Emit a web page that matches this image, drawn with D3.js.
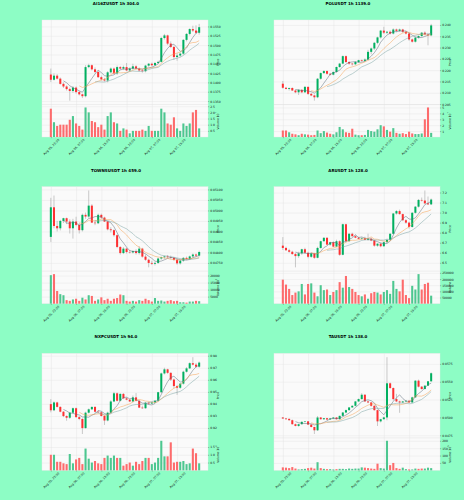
<!DOCTYPE html>
<html>
<head>
<meta charset="utf-8">
<script src="https://cdn.jsdelivr.net/npm/d3@7"></script>
<style>
  body { margin: 0; background: #8dfdc5; }
  svg { display: block; font-family: "DejaVu Sans", sans-serif; }
</style>
</head>
<body>
<svg id="chart" width="464" height="500"></svg>
<script>
// 48 hourly candles, same time axis for all six charts
const tickIdx = [0, 8, 16, 24, 32, 40];
const tickLabels = ["Aug 05, 23:00", "Aug 06, 07:00", "Aug 06, 15:00", "Aug 06, 23:00", "Aug 07, 07:00", "Aug 07, 15:00"];
const mavWindows = [5, 10, 15];

// AI16ZUSDT
const ai16zOpen  = [.1421,.1407,.1418,.1410,.1396,.1389,.1382,.1377,.1386,.1374,.1368,.1363,.1441,.1446,.1435,.1428,.1414,.1408,.1405,.1427,.1437,.1424,.1441,.1437,.1441,.1432,.1437,.1443,.1437,.1432,.1430,.1445,.1450,.1446,.1452,.1455,.1519,.1526,.1504,.1495,.1468,.1472,.1477,.1514,.1530,.1543,.1539,.1533];
const ai16zHigh  = [.1437,.1424,.1422,.1413,.1400,.1392,.1386,.1390,.1389,.1377,.1370,.1446,.1450,.1448,.1440,.1432,.1418,.1412,.1430,.1440,.1440,.1445,.1444,.1445,.1452,.1440,.1450,.1446,.1440,.1436,.1447,.1452,.1453,.1455,.1458,.1522,.1530,.1528,.1510,.1498,.1478,.1480,.1516,.1532,.1545,.1552,.1553,.1557];
const ai16zLow   = [.1401,.1405,.1408,.1394,.1385,.1378,.1351,.1372,.1370,.1365,.1358,.1360,.1438,.1432,.1425,.1412,.1405,.1402,.1400,.1424,.1422,.1420,.1434,.1433,.1430,.1428,.1434,.1435,.1429,.1426,.1427,.1442,.1443,.1444,.1450,.1453,.1515,.1500,.1492,.1460,.1458,.1468,.1474,.1510,.1526,.1535,.1530,.1528];
const ai16zClose = [.1407,.1418,.1410,.1396,.1389,.1382,.1377,.1386,.1374,.1368,.1363,.1441,.1446,.1435,.1428,.1414,.1408,.1405,.1427,.1437,.1424,.1441,.1437,.1441,.1432,.1437,.1443,.1437,.1432,.1430,.1445,.1450,.1446,.1452,.1455,.1519,.1526,.1504,.1495,.1468,.1472,.1477,.1514,.1530,.1543,.1539,.1533,.1548];
const ai16zVol   = [2.3,1.2,0.9,1.0,1.0,1.0,1.4,1.7,1.1,0.9,0.6,2.4,2.0,1.3,1.2,0.8,1.0,0.6,1.7,2.0,1.2,1.1,0.5,0.7,0.6,0.3,0.5,0.5,0.5,0.6,0.5,0.9,0.5,0.5,0.5,2.3,2.0,1.1,1.0,1.6,0.7,0.5,1.1,0.9,1.1,2.0,2.2,0.7];
const ai16zPriceTicks = [0.1350,0.1375,0.1400,0.1425,0.1450,0.1475,0.1500,0.1525,0.1550];
const ai16zVolTicks = [0.5,1.0,1.5,2.0,2.5];

// POLUSDT
const polOpen  = [.2140,.2122,.2117,.2121,.2110,.2102,.2113,.2102,.2126,.2095,.2088,.2080,.2162,.2187,.2196,.2184,.2180,.2192,.2214,.2229,.2262,.2236,.2229,.2226,.2236,.2244,.2241,.2247,.2281,.2296,.2321,.2345,.2375,.2366,.2370,.2362,.2380,.2374,.2380,.2370,.2362,.2336,.2326,.2344,.2351,.2366,.2358,.2354];
const polHigh  = [.2152,.2126,.2123,.2124,.2114,.2115,.2116,.2130,.2128,.2100,.2092,.2165,.2190,.2200,.2199,.2188,.2194,.2216,.2232,.2265,.2265,.2240,.2232,.2240,.2246,.2247,.2252,.2290,.2300,.2325,.2348,.2378,.2392,.2374,.2376,.2385,.2384,.2384,.2383,.2372,.2366,.2340,.2347,.2354,.2368,.2372,.2365,.2405];
const polLow   = [.2118,.2115,.2110,.2108,.2098,.2090,.2098,.2100,.2090,.2085,.2065,.2076,.2158,.2183,.2180,.2176,.2177,.2188,.2210,.2226,.2232,.2224,.2220,.2222,.2232,.2237,.2238,.2244,.2270,.2290,.2315,.2340,.2360,.2360,.2358,.2358,.2368,.2370,.2365,.2358,.2330,.2322,.2322,.2340,.2348,.2355,.2310,.2350];
const polClose = [.2122,.2117,.2121,.2110,.2102,.2113,.2102,.2126,.2095,.2088,.2080,.2162,.2187,.2196,.2184,.2180,.2192,.2214,.2229,.2262,.2236,.2229,.2226,.2236,.2244,.2241,.2247,.2281,.2296,.2321,.2345,.2375,.2366,.2370,.2362,.2380,.2374,.2380,.2370,.2362,.2336,.2326,.2344,.2351,.2366,.2358,.2354,.2398];
const polVol   = [1.1,1.1,0.8,0.55,0.45,0.3,0.55,0.45,0.4,0.3,0.35,1.1,0.65,1.0,0.75,0.55,0.45,0.8,1.7,1.3,0.8,0.7,1.4,0.4,0.3,0.3,0.35,1.2,1.0,0.9,1.3,2.0,1.8,1.2,0.9,1.5,0.7,0.55,0.65,0.5,0.9,0.6,0.5,0.5,0.6,3.0,5.0,0.7];
const polPriceTicks = [0.205,0.210,0.215,0.220,0.225,0.230,0.235,0.240];
const polVolTicks = [1,2,3,4,5];

// TOWNSUSDT
const townsOpen  = [.04874,.05015,.04926,.04915,.04950,.04963,.04947,.04915,.04947,.04931,.04906,.04979,.04971,.05023,.04942,.04939,.04979,.04966,.04947,.04910,.04906,.04882,.04826,.04797,.04818,.04802,.04800,.04806,.04797,.04818,.04780,.04765,.04750,.04746,.04750,.04771,.04777,.04781,.04777,.04774,.04765,.04748,.04761,.04774,.04769,.04781,.04790,.04785];
const townsHigh  = [.05060,.05071,.04950,.04955,.04965,.04966,.04958,.04960,.04970,.04940,.04985,.04990,.05095,.05030,.04955,.04985,.04985,.04970,.04950,.04920,.04910,.04885,.04830,.04825,.04822,.04812,.04810,.04815,.04830,.04822,.04790,.04770,.04760,.04755,.04775,.04780,.04785,.04788,.04785,.04778,.04770,.04765,.04778,.04780,.04785,.04795,.04795,.04808];
const townsLow   = [.04850,.04915,.04900,.04905,.04940,.04935,.04890,.04866,.04925,.04890,.04900,.04960,.04965,.04940,.04930,.04935,.04960,.04945,.04905,.04895,.04875,.04820,.04790,.04792,.04795,.04795,.04795,.04790,.04790,.04775,.04760,.04729,.04740,.04738,.04745,.04765,.04770,.04772,.04768,.04760,.04742,.04742,.04755,.04765,.04765,.04776,.04780,.04780];
const townsClose = [.05015,.04926,.04915,.04950,.04963,.04947,.04915,.04947,.04931,.04906,.04979,.04971,.05023,.04942,.04939,.04979,.04966,.04947,.04910,.04906,.04882,.04826,.04797,.04818,.04802,.04800,.04806,.04797,.04818,.04780,.04765,.04750,.04746,.04750,.04771,.04777,.04781,.04777,.04774,.04765,.04748,.04761,.04774,.04769,.04781,.04790,.04785,.04802];
const townsVol   = [20250,21000,9000,6750,6000,2500,2000,3000,3500,2000,4250,3000,6000,5500,2000,3000,4500,2500,3500,2000,3500,4000,6500,6000,2000,1500,2000,1500,2500,2000,3500,2500,1500,4000,2000,2250,1500,2000,2500,1750,2000,1000,1000,750,1500,1500,2000,1750];
const townsPriceTicks = [0.0475,0.0480,0.0485,0.0490,0.0495,0.0500,0.0505,0.0510];
const townsVolTicks = [5000,10000,15000,20000];

// ARUSDT
const arOpen  = [6.671,6.648,6.625,6.610,6.587,6.567,6.594,6.635,6.600,6.560,6.594,6.550,6.648,6.715,6.749,6.681,6.705,6.661,6.715,6.580,6.884,6.715,6.789,6.765,6.750,6.739,6.745,6.729,6.740,6.722,6.671,6.690,6.665,6.705,6.729,6.789,6.991,7.015,6.985,6.924,6.900,6.857,6.998,7.059,7.126,7.120,7.092,7.082];
const arHigh  = [6.756,6.660,6.640,6.620,6.600,6.610,6.640,6.650,6.610,6.600,6.600,6.660,6.720,6.755,6.755,6.710,6.715,6.730,6.725,6.890,6.890,6.795,6.800,6.775,6.760,6.755,6.760,6.790,6.750,6.728,6.695,6.700,6.710,6.735,6.795,6.995,7.025,7.030,6.990,6.935,6.910,7.005,7.065,7.135,7.150,7.220,7.160,7.140];
const arLow   = [6.628,6.620,6.600,6.580,6.455,6.550,6.580,6.590,6.545,6.550,6.540,6.545,6.640,6.710,6.680,6.670,6.655,6.655,6.570,6.575,6.705,6.710,6.760,6.745,6.735,6.730,6.725,6.720,6.715,6.660,6.660,6.655,6.660,6.700,6.725,6.785,6.980,6.980,6.915,6.890,6.840,6.850,6.990,7.050,7.110,7.085,7.075,7.075];
const arClose = [6.648,6.625,6.610,6.587,6.567,6.594,6.635,6.600,6.560,6.594,6.550,6.648,6.715,6.749,6.681,6.705,6.661,6.715,6.580,6.884,6.715,6.789,6.765,6.750,6.739,6.745,6.729,6.740,6.722,6.671,6.690,6.665,6.705,6.729,6.789,6.991,7.015,6.985,6.924,6.900,6.857,6.998,7.059,7.126,7.120,7.092,7.082,7.130];
const arVol   = [195000,155000,120000,70000,90000,100000,160000,75000,160000,165000,90000,60000,150000,110000,115000,70000,95000,110000,175000,130000,225000,135000,120000,95000,70000,60000,75000,40000,85000,95000,90000,75000,95000,110000,80000,185000,120000,100000,195000,70000,45000,145000,115000,240000,115000,160000,170000,65000];
const arPriceTicks = [6.5,6.6,6.7,6.8,6.9,7.0,7.1,7.2];
const arVolTicks = [50000,100000,150000,200000,250000];

// NXPCUSDT
const nxpcOpen  = [.9398,.9347,.9412,.9375,.9335,.9299,.9285,.9327,.9364,.9290,.9275,.9199,.9327,.9355,.9375,.9335,.9330,.9300,.9262,.9327,.9420,.9488,.9426,.9483,.9446,.9435,.9420,.9454,.9426,.9369,.9364,.9410,.9403,.9412,.9426,.9497,.9653,.9687,.9658,.9602,.9548,.9534,.9568,.9667,.9695,.9738,.9726,.9709];
const nxpcHigh  = [.9440,.9420,.9418,.9380,.9340,.9305,.9330,.9370,.9370,.9300,.9280,.9335,.9362,.9378,.9380,.9345,.9338,.9305,.9335,.9430,.9500,.9495,.9488,.9490,.9455,.9440,.9470,.9490,.9432,.9385,.9415,.9418,.9415,.9432,.9500,.9660,.9700,.9692,.9662,.9610,.9555,.9572,.9675,.9705,.9745,.9788,.9740,.9752];
const nxpcLow   = [.9330,.9340,.9370,.9330,.9290,.9260,.9275,.9320,.9285,.9265,.9150,.9195,.9320,.9350,.9330,.9325,.9295,.9225,.9255,.9320,.9415,.9420,.9420,.9440,.9430,.9415,.9412,.9420,.9365,.9358,.9360,.9395,.9398,.9408,.9420,.9490,.9645,.9650,.9590,.9530,.9475,.9525,.9560,.9660,.9690,.9720,.9700,.9700];
const nxpcClose = [.9347,.9412,.9375,.9335,.9299,.9285,.9327,.9364,.9290,.9275,.9199,.9327,.9355,.9375,.9335,.9330,.9300,.9262,.9327,.9420,.9488,.9426,.9483,.9446,.9435,.9420,.9454,.9426,.9369,.9364,.9410,.9403,.9412,.9426,.9497,.9653,.9687,.9658,.9602,.9548,.9534,.9568,.9667,.9695,.9738,.9726,.9709,.9743];
const nxpcVol   = [1.0,1.0,0.55,0.55,0.45,0.4,1.05,0.45,0.7,0.8,0.4,1.4,0.75,0.5,0.6,0.45,0.4,0.8,0.95,0.8,0.95,0.8,0.8,0.3,0.4,0.5,0.3,0.55,0.4,0.6,0.8,0.8,0.4,0.5,0.8,1.9,0.9,0.9,1.8,0.5,0.55,0.55,0.6,0.4,0.45,1.4,1.1,0.45];
const nxpcPriceTicks = [0.92,0.93,0.94,0.95,0.96,0.97,0.98];
const nxpcVolTicks = [0.5,1.0,1.5];

// TAUSDT
const taOpen  = [.04999,.04985,.04980,.04961,.04905,.04881,.04905,.04938,.04945,.04900,.04866,.04820,.04999,.04975,.04989,.04971,.04985,.04999,.04975,.05022,.05069,.05102,.05140,.05163,.05224,.05257,.05318,.05224,.05210,.05163,.05102,.04945,.04975,.05000,.05478,.05412,.05257,.05224,.05210,.05224,.05234,.05210,.05281,.05515,.05431,.05398,.05445,.05506];
const taHigh  = [.05005,.04992,.04985,.04970,.04915,.04910,.04945,.04950,.04950,.04905,.04870,.05020,.05005,.04992,.04995,.04990,.05005,.05005,.05025,.05075,.05110,.05145,.05170,.05230,.05265,.05340,.05325,.05235,.05215,.05170,.05110,.04980,.05010,.05844,.05490,.05420,.05330,.05235,.05230,.05240,.05240,.05290,.05520,.05530,.05440,.05450,.05510,.05630];
const taLow   = [.04980,.04970,.04955,.04900,.04875,.04870,.04900,.04930,.04895,.04860,.04768,.04810,.04970,.04965,.04965,.04965,.04980,.04970,.04970,.05015,.05060,.05095,.05135,.05155,.05218,.05250,.05220,.05200,.05150,.05095,.04880,.04930,.04970,.04960,.05400,.05240,.05215,.05065,.05200,.05215,.05205,.05205,.05275,.05420,.05390,.05390,.05440,.05500];
const taClose = [.04985,.04975,.04961,.04905,.04881,.04905,.04938,.04945,.04900,.04866,.04820,.04999,.04975,.04989,.04971,.04985,.04999,.04975,.05022,.05069,.05102,.05140,.05163,.05224,.05257,.05318,.05224,.05210,.05163,.05102,.04945,.04975,.05000,.05478,.05412,.05257,.05224,.05210,.05224,.05234,.05210,.05281,.05515,.05431,.05398,.05445,.05506,.05619];
const taVol   = [20,18,15,22,12,6,8,10,15,18,12,55,15,10,8,8,6,8,10,10,8,12,10,12,12,20,18,15,12,10,45,15,12,200,35,50,15,10,18,8,6,6,12,10,12,12,18,15];
const taPriceTicks = [0.0475,0.0500,0.0525,0.0550,0.0575];
const taVolTicks = [50,100,150,200];

const panels = [
  {title: "AI16ZUSDT 1h 304.0", o: ai16zOpen, h: ai16zHigh, l: ai16zLow, c: ai16zClose, v: ai16zVol, pt: ai16zPriceTicks, pf: ".4f", vt: ai16zVolTicks, vf: ".1f", vexp: "7"},
  {title: "POLUSDT 1h 1139.0", o: polOpen, h: polHigh, l: polLow, c: polClose, v: polVol, pt: polPriceTicks, pf: ".3f", vt: polVolTicks, vf: "d", vexp: "7"},
  {title: "TOWNSUSDT 1h 459.0", o: townsOpen, h: townsHigh, l: townsLow, c: townsClose, v: townsVol, pt: townsPriceTicks, pf: ".5f", vt: townsVolTicks, vf: "d", vexp: "3"},
  {title: "ARUSDT 1h 128.0", o: arOpen, h: arHigh, l: arLow, c: arClose, v: arVol, pt: arPriceTicks, pf: ".1f", vt: arVolTicks, vf: "d", vexp: null},
  {title: "NXPCUSDT 1h 94.0", o: nxpcOpen, h: nxpcHigh, l: nxpcLow, c: nxpcClose, v: nxpcVol, pt: nxpcPriceTicks, pf: ".2f", vt: nxpcVolTicks, vf: ".1f", vexp: "6"},
  {title: "TAUSDT 1h 138.0", o: taOpen, h: taHigh, l: taLow, c: taClose, v: taVol, pt: taPriceTicks, pf: ".4f", vt: taVolTicks, vf: "d", vexp: "5"}
];

const upCol = "#00b060", downCol = "#fe3032";
const volUp = "#4dc790", volDown = "#fd6b6c";
const mavColors = ["#5a6a78", "#f5a050", "#7aa3a3"];
const gridCol = "#e3e3e3";

const svg = d3.select("#chart");
const colW = 232, rowH = 500 / 3;

function sma(arr, w) {
  return arr.map((d, i) => i < w - 1 ? null : d3.mean(arr.slice(i - w + 1, i + 1)));
}

panels.forEach((p, k) => {
  const ox = (k % 2) * colW, oy = Math.floor(k / 2) * rowH;
  const left = ox + 42, right = ox + 208;
  const top = oy + 20, split = oy + 104.5, bottom = oy + 137;
  const n = p.c.length;
  const g = svg.append("g");

  g.append("text")
    .attr("x", ox + 116).attr("y", oy + 5)
    .attr("text-anchor", "middle")
    .attr("font-size", 4).attr("font-weight", "bold")
    .attr("fill", "#000")
    .text(p.title);

  const x = d3.scaleLinear().domain([-2.8, n + 1.8]).range([left, right]);
  const lo = d3.min(p.l), hi = d3.max(p.h), pad = (hi - lo) * 0.05;
  const y = d3.scaleLinear().domain([lo - pad, hi + pad]).range([split, top]);
  const yv = d3.scaleLinear().domain([0, d3.max(p.v) * 1.1]).range([bottom, split]);
  const step = x(1) - x(0);
  // like matplotlib, only ticks inside the axis limits are shown
  const pTicks = p.pt.filter(t => t >= y.domain()[0] && t <= y.domain()[1]);

  // plot backgrounds
  g.append("rect").attr("x", left).attr("y", top).attr("width", right - left).attr("height", bottom - top)
    .attr("fill", "#fafafa").attr("stroke", "#e8e8e8").attr("stroke-width", 0.4);
  g.append("line").attr("x1", left).attr("x2", right).attr("y1", split).attr("y2", split)
    .attr("stroke", "#dcdcdc").attr("stroke-width", 0.4);

  // grids
  const gx = g.append("g").attr("transform", `translate(0,${bottom})`)
    .call(d3.axisBottom(x).tickValues(tickIdx).tickSize(-(bottom - top)).tickFormat(""));
  const gy = g.append("g").attr("transform", `translate(${left},0)`)
    .call(d3.axisLeft(y).tickValues(pTicks).tickSize(-(right - left)).tickFormat(""));
  const gyv = g.append("g").attr("transform", `translate(${left},0)`)
    .call(d3.axisLeft(yv).tickValues(p.vt).tickSize(-(right - left)).tickFormat(""));
  [gx, gy, gyv].forEach(a => {
    a.select(".domain").remove();
    a.selectAll("line").attr("stroke", gridCol).attr("stroke-width", 0.4);
  });

  // right y axes
  const ay = g.append("g").attr("transform", `translate(${right},0)`)
    .call(d3.axisRight(y).tickValues(pTicks).tickFormat(d3.format(p.pf)).tickSize(1.2).tickPadding(1));
  const ayv = g.append("g").attr("transform", `translate(${right},0)`)
    .call(d3.axisRight(yv).tickValues(p.vt).tickFormat(d3.format(p.vf)).tickSize(1.2).tickPadding(1));
  [ay, ayv].forEach(a => {
    a.select(".domain").remove();
    a.selectAll("line").attr("stroke", "#333").attr("stroke-width", 0.3);
    a.selectAll("text").attr("font-size", 3).attr("fill", "#101010").attr("font-family", "DejaVu Sans");
  });

  // x axis labels
  const ax = g.append("g").attr("transform", `translate(0,${bottom})`)
    .call(d3.axisBottom(x).tickValues(tickIdx).tickFormat((d, i) => tickLabels[i]).tickSize(1.2));
  ax.select(".domain").remove();
  ax.selectAll("line").attr("stroke", "#333").attr("stroke-width", 0.3);
  ax.selectAll("text")
    .attr("font-size", 3).attr("fill", "#101010").attr("font-family", "DejaVu Sans")
    .attr("text-anchor", "middle").attr("y", 0).attr("dy", "0.35em")
    .attr("transform", "translate(0,10) rotate(-45)");

  // axis titles
  g.append("text")
    .attr("transform", `translate(${right + 10.5},${(top + split) / 2}) rotate(-90)`)
    .attr("text-anchor", "middle").attr("font-size", 3).attr("fill", "#101010")
    .text("Price");
  const vl = g.append("text")
    .attr("transform", `translate(${right + 10.5},${(split + bottom) / 2}) rotate(-90)`)
    .attr("text-anchor", "middle").attr("font-size", 3).attr("fill", "#101010")
    .text("Volume");
  if (p.vexp) {
    vl.append("tspan").text("  10");
    vl.append("tspan").attr("font-size", 2.2).attr("dy", -1.2).text(p.vexp);
  }

  const idx = d3.range(n);

  // volume bars
  g.append("g").selectAll("rect").data(idx).join("rect")
    .attr("x", i => x(i) - step * 0.33)
    .attr("width", step * 0.66)
    .attr("y", i => yv(p.v[i]))
    .attr("height", i => yv(0) - yv(p.v[i]))
    .attr("fill", i => p.c[i] >= p.o[i] ? volUp : volDown);

  // wicks
  g.append("g").selectAll("line").data(idx).join("line")
    .attr("x1", i => x(i)).attr("x2", i => x(i))
    .attr("y1", i => y(p.h[i])).attr("y2", i => y(p.l[i]))
    .attr("stroke", "#8a8a8a").attr("stroke-width", 0.45);

  // bodies
  g.append("g").selectAll("rect").data(idx).join("rect")
    .attr("x", i => x(i) - step * 0.32)
    .attr("width", step * 0.64)
    .attr("y", i => y(Math.max(p.o[i], p.c[i])))
    .attr("height", i => Math.max(0.4, Math.abs(y(p.o[i]) - y(p.c[i]))))
    .attr("fill", i => p.c[i] >= p.o[i] ? upCol : downCol);

  // moving averages
  mavWindows.forEach((w, j) => {
    const m = sma(p.c, w);
    const line = d3.line().defined(d => d != null).x((d, i) => x(i)).y(d => y(d));
    g.append("path").datum(m)
      .attr("d", line)
      .attr("fill", "none").attr("stroke", mavColors[j]).attr("stroke-width", 0.5);
  });
});
</script>
</body>
</html>
